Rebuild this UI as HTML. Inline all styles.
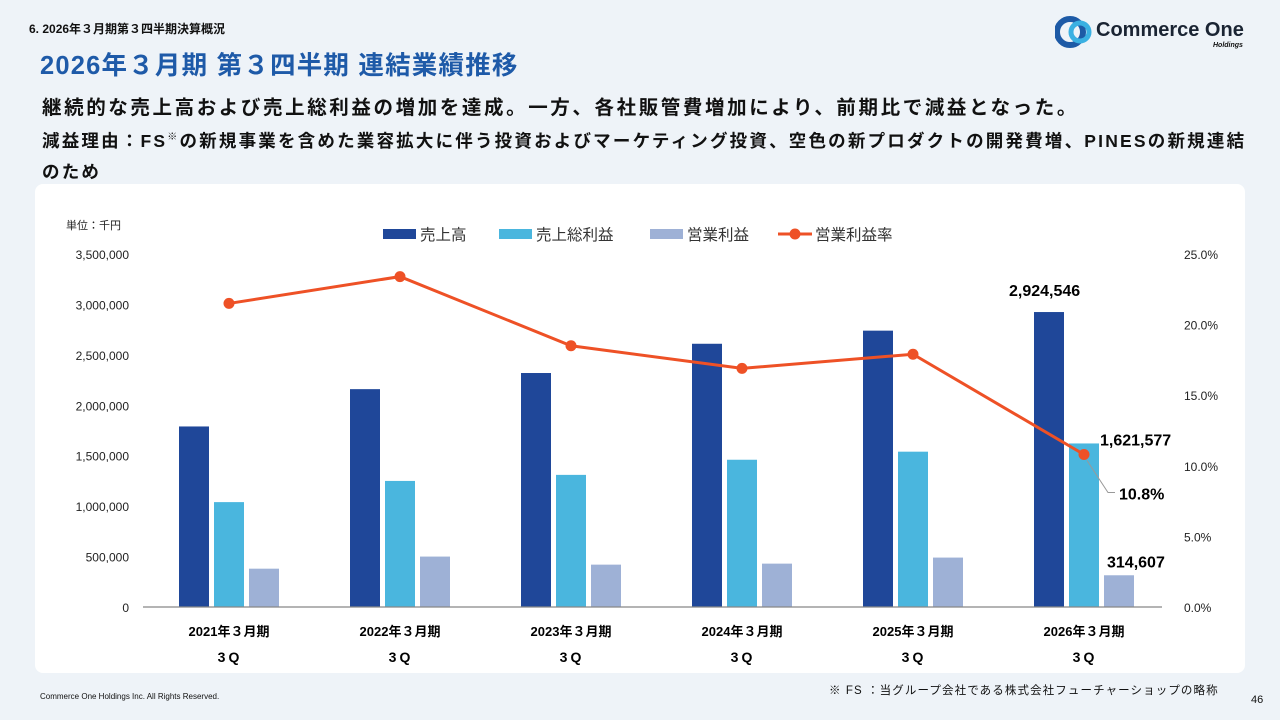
<!DOCTYPE html>
<html><head><meta charset="utf-8"><style>
body{margin:0;width:1280px;height:720px;background:#eef3f8;font-family:"Liberation Sans","Noto Sans CJK JP",sans-serif;position:relative;overflow:hidden;color:#111}
.abs{position:absolute;white-space:nowrap}
</style></head><body>
<div class="abs" style="left:29px;top:20px;font-size:12px;font-weight:bold">6. 2026年３月期第３四半期決算概況</div>
<div class="abs" style="left:40px;top:45px;font-size:25.5px;font-weight:bold;color:#1e5aa8;letter-spacing:1.2px">2026年３月期 第３四半期 連結業績推移</div>
<div class="abs" style="left:42px;top:91px;font-size:19.5px;font-weight:bold;letter-spacing:2.6px">継続的な売上高および売上総利益の増加を達成。一方、各社販管費増加により、前期比で減益となった。</div>
<div class="abs" style="left:42px;top:122px;font-size:17.5px;font-weight:bold;line-height:31px;white-space:normal;width:1210px;letter-spacing:2.2px">減益理由：FS<sup style="font-size:10px">※</sup>の新規事業を含めた業容拡大に伴う投資およびマーケティング投資、空色の新プロダクトの開発費増、PINESの新規連結のため</div>
<div class="abs" style="left:1055px;top:15px;height:34px">
<svg width="40" height="34" style="position:absolute;left:0;top:0"><circle cx="15" cy="17" r="13" fill="none" stroke="#1d5aa6" stroke-width="6"/><circle cx="25" cy="17" r="9" fill="none" stroke="#3ab0e2" stroke-width="5"/></svg>
<div class="abs" style="left:41px;top:4px;font-size:20px;font-weight:bold;color:#1a2433">Commerce One</div>
<div class="abs" style="left:158px;top:27px;font-size:7px;font-style:italic;font-weight:bold">Holdings</div>
</div>
<div class="abs" style="left:35px;top:184px;width:1210px;height:489px;background:#fff;border-radius:8px"></div>
<svg id="chart" class="abs" style="left:0;top:0" width="1280" height="720"></svg>
<div class="abs" style="left:829px;top:682px;font-size:11.5px;letter-spacing:1.1px">※ FS ：当グループ会社である株式会社フューチャーショップの略称</div>
<div class="abs" style="left:40px;top:692px;font-size:8px">Commerce One Holdings Inc. All Rights Reserved.</div>
<div class="abs" style="left:1251px;top:694px;font-size:11px">46</div>
<script>
const categories=["2021年３月期","2022年３月期","2023年３月期","2024年３月期","2025年３月期","2026年３月期"];
const sales=[1790000,2160000,2320000,2610000,2740000,2924546];
const gross=[1040000,1250000,1310000,1460000,1540000,1621577];
const opInc=[380000,500000,420000,430000,490000,314607];
const opRate=[21.5,23.4,18.5,16.9,17.9,10.8];
const leftTicks=[0,500000,1000000,1500000,2000000,2500000,3000000,3500000];
const rightTicks=[0,5,10,15,20,25];
const NS="http://www.w3.org/2000/svg";
const svg=document.getElementById('chart');
const y0=607,yTop=254;
const yL=v=>y0-(v/3500000)*(y0-yTop);
const yR=v=>y0-(v/25)*(y0-yTop);
const xC=i=>229+i*171;
function mk(t,a,txt){const e=document.createElementNS(NS,t);for(const k in a)e.setAttribute(k,a[k]);if(txt!==undefined)e.textContent=txt;svg.appendChild(e);return e;}
leftTicks.forEach(v=>{const e=mk('text',{x:129,y:yL(v)+5,'text-anchor':'end','font-size':12,fill:'#222'},v.toLocaleString('en-US'));

});
rightTicks.forEach(v=>{const e=mk('text',{x:1184,y:yR(v)+5,'font-size':12,fill:'#222'},v.toFixed(1)+'%');

});
const u=mk('text',{x:66,y:229,'font-size':11,fill:'#222'},'単位：千円');


const series=[[sales,'#1f4799',-35],[gross,'#4ab6de',0],[opInc,'#9eb1d6',35]];
series.forEach(([arr,col,off])=>arr.forEach((v,i)=>{const r=mk('rect',{x:xC(i)+off-15,y:yL(v),width:30,height:y0-yL(v),fill:col});

}));
const ax=mk('line',{x1:143,x2:1162,y1:y0,y2:y0,stroke:'#888','stroke-width':1.2});


categories.forEach((c,i)=>{const t=mk('text',{x:xC(i),y:636,'text-anchor':'middle','font-size':13,'font-weight':'bold'},c);


const q=mk('text',{x:xC(i)+1,y:662,'text-anchor':'middle','font-size':14,'font-weight':'bold','letter-spacing':'3'},'3Q');

});
const pl=mk('polyline',{points:opRate.map((v,i)=>xC(i)+','+yR(v)).join(' '),fill:'none',stroke:'#ee5126','stroke-width':3});


opRate.forEach((v,i)=>{const c=mk('circle',{cx:xC(i),cy:yR(v),r:5.5,fill:'#ee5126'});

});
const L=5;
const lab=(x,y,t,n)=>{const e=mk('text',{x:x,y:y,'font-size':16,'font-weight':'bold'},t);

};
lab(xC(L)-35-40,yL(sales[L])-16,sales[L].toLocaleString('en-US'),'sales-label');
lab(xC(L)+16,yL(gross[L])+2,gross[L].toLocaleString('en-US'),'gross-label');
lab(xC(L)+23,yL(opInc[L])-8,opInc[L].toLocaleString('en-US'),'op-label');
const ld=mk('polyline',{points:`${xC(L)+3},${yR(opRate[L])+6} ${xC(L)+24},${yR(opRate[L])+38} ${xC(L)+31},${yR(opRate[L])+38}`,fill:'none',stroke:'#999','stroke-width':1});


lab(xC(L)+35,yR(opRate[L])+45,opRate[L].toFixed(1)+'%','rate-label');
const leg=[['売上高','#1f4799',383,'r'],['売上総利益','#4ab6de',499,'r'],['営業利益','#9eb1d6',650,'r'],['営業利益率','#ee5126',778,'l']];
leg.forEach(([t,c,x,k])=>{if(k==='r'){const r=mk('rect',{x:x,y:229,width:33,height:10,fill:c});

}
else{const l=mk('line',{x1:x,x2:x+34,y1:234,y2:234,stroke:c,'stroke-width':3});


const cc=mk('circle',{cx:x+17,cy:234,r:5.5,fill:c});

}
const e=mk('text',{x:x+37,y:240,'font-size':15.5,fill:'#333'},t);

});
</script>
</body></html>
